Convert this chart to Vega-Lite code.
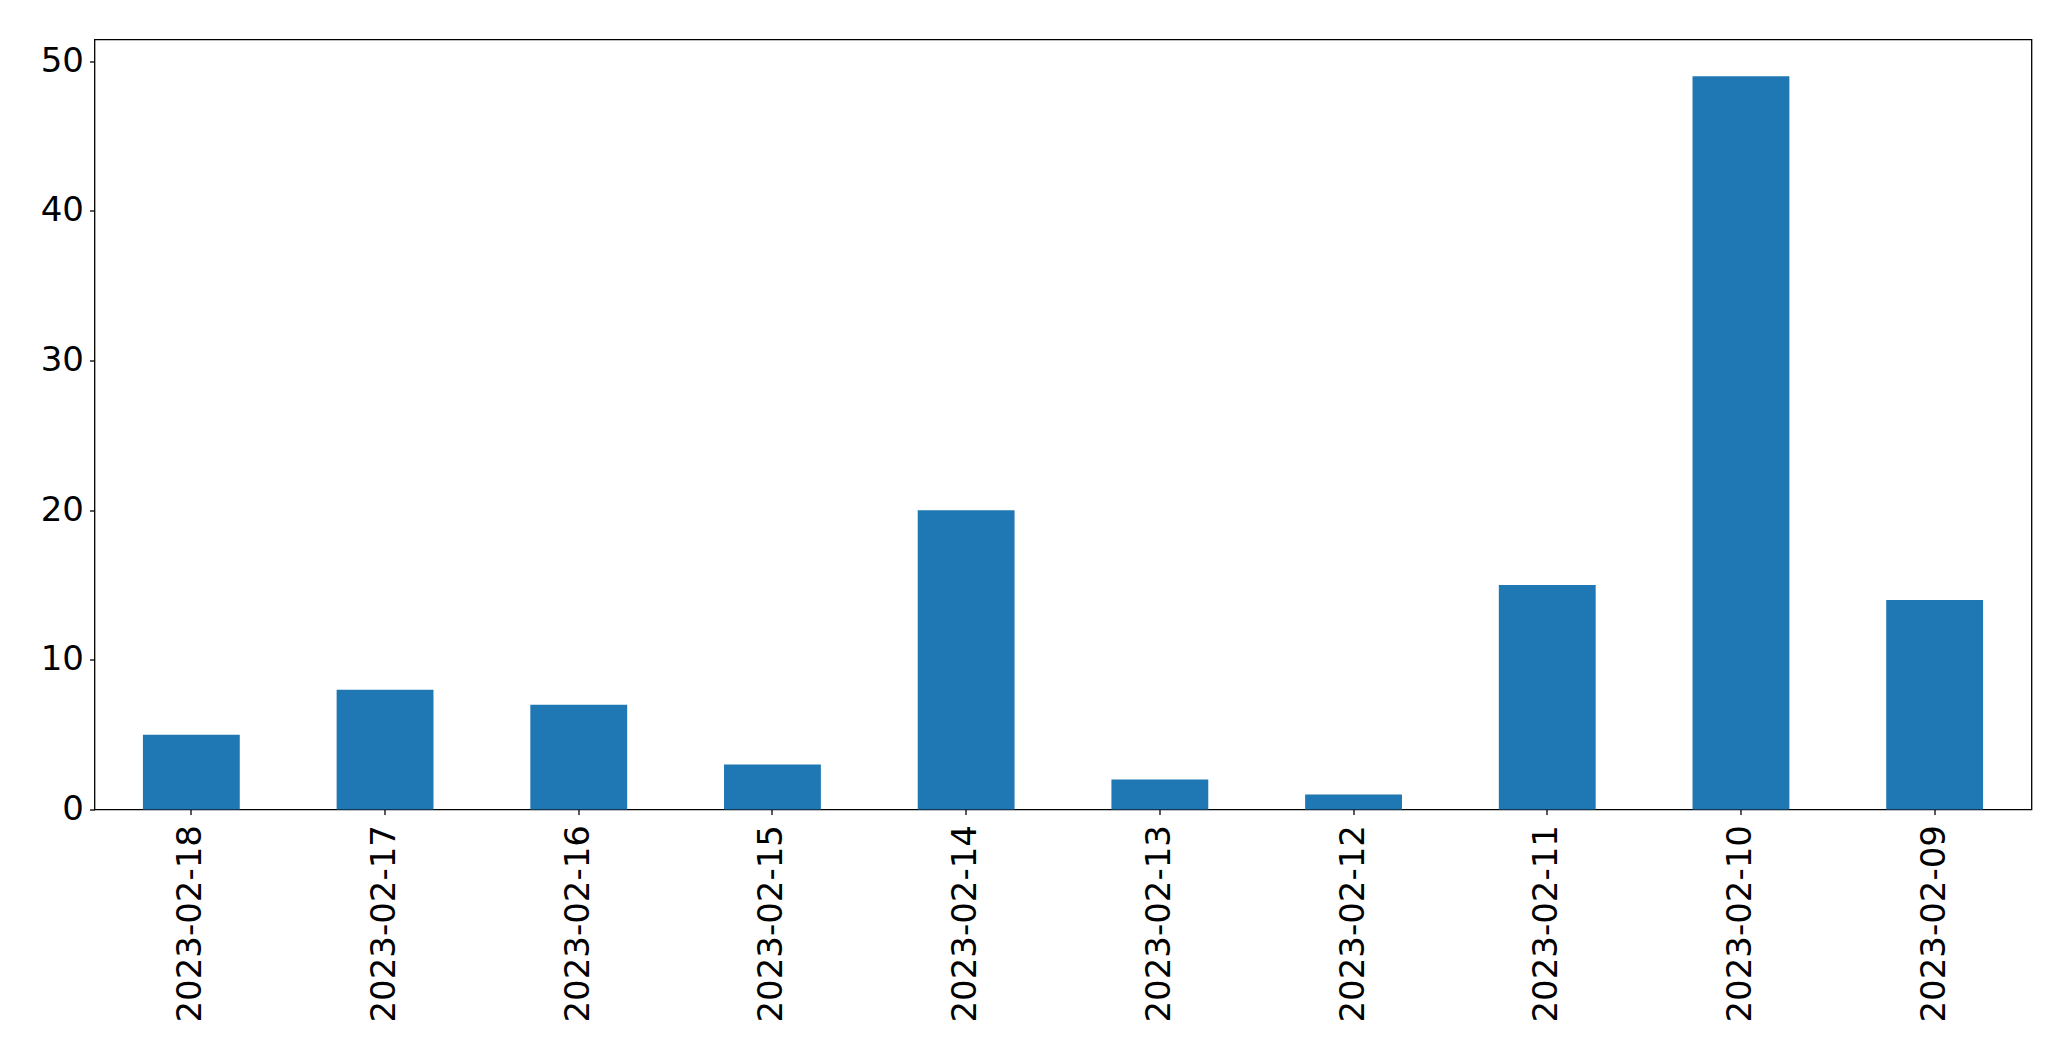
{
  "$schema": "https://vega.github.io/schema/vega-lite/v6.json",
  "width": 1937,
  "height": 770,
  "autosize": "none",
  "padding": {"left": 94.5, "top": 39.5, "right": 39.5, "bottom": 251.5},
  "background": "white",
  "config": {
    "view": {"stroke": "#000000", "strokeWidth": 1.3},
    "font": "DejaVu Sans",
    "axis": {
      "labelFont": "DejaVu Sans",
      "labelFontSize": 34,
      "labelColor": "#000000",
      "labelLimit": 0,
      "tickColor": "#000000",
      "tickSize": 5,
      "tickWidth": 1.3,
      "domain": false,
      "grid": false,
      "title": null
    }
  },
  "data": {
    "values": [
      {"date": "2023-02-18", "count": 5},
      {"date": "2023-02-17", "count": 8},
      {"date": "2023-02-16", "count": 7},
      {"date": "2023-02-15", "count": 3},
      {"date": "2023-02-14", "count": 20},
      {"date": "2023-02-13", "count": 2},
      {"date": "2023-02-12", "count": 1},
      {"date": "2023-02-11", "count": 15},
      {"date": "2023-02-10", "count": 49},
      {"date": "2023-02-09", "count": 14}
    ]
  },
  "mark": {"type": "bar", "color": "#1f77b4"},
  "encoding": {
    "x": {
      "field": "date",
      "type": "nominal",
      "sort": null,
      "scale": {"paddingInner": 0.5, "paddingOuter": 0.25},
      "axis": {"labelAngle": -90, "labelAlign": "right", "labelBaseline": "middle", "labelPadding": 10}
    },
    "y": {
      "field": "count",
      "type": "quantitative",
      "scale": {"domain": [0, 51.45], "nice": false, "zero": true},
      "axis": {"values": [0, 10, 20, 30, 40, 50], "labelPadding": 6}
    }
  }
}
